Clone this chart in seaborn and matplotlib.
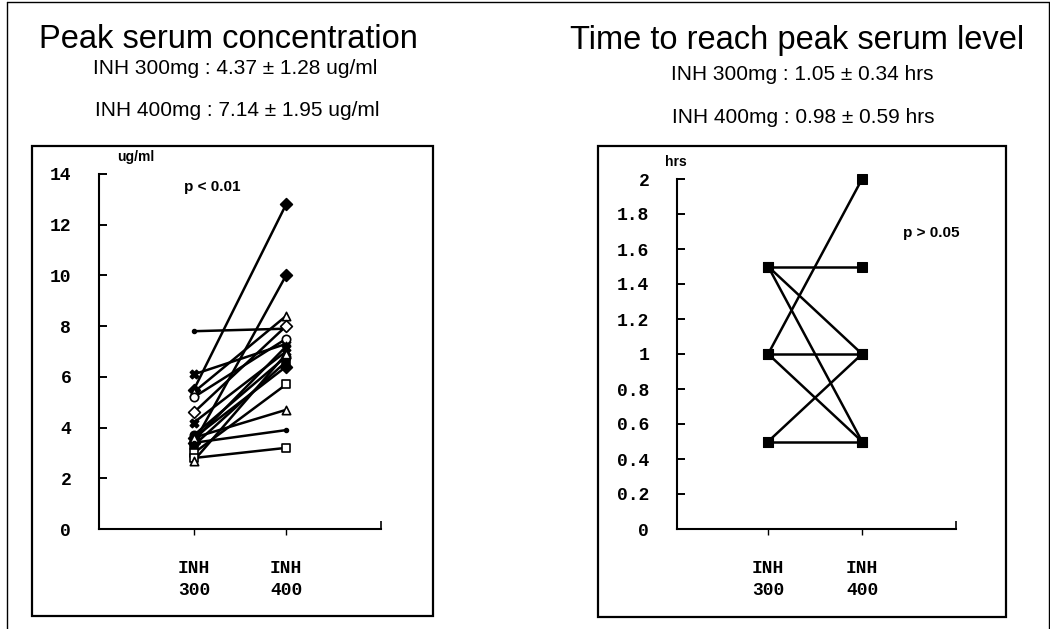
import matplotlib
matplotlib.use("Agg")
import matplotlib.pyplot as plt
from matplotlib.lines import Line2D
from matplotlib.patches import Rectangle
from matplotlib.ticker import FixedLocator
import seaborn as sns
import pandas as pd

# ---------------- data ----------------
doses = ["INH\n300", "INH\n400"]

# Peak serum concentration (ug/ml), one pair per subject
conc_300 = [5.5, 3.4, 7.8, 6.1, 5.4, 5.2, 4.6, 4.2, 3.7, 3.5, 3.3, 3.6, 3.0, 3.6, 3.4, 2.8, 2.7]
conc_400 = [12.8, 10.0, 7.9, 7.3, 8.4, 7.5, 8.0, 7.0, 6.8, 7.2, 6.6, 6.4, 5.7, 4.7, 3.9, 3.2, 6.9]

# Time to reach peak serum level (hrs)
time_300 = [1.0, 1.5, 1.5, 1.5, 1.0, 1.0, 0.5, 0.5]
time_400 = [2.0, 1.5, 1.0, 0.5, 1.0, 0.5, 1.0, 0.5]

left_title = "Peak serum concentration"
left_sub1 = "INH 300mg : 4.37 \u00b1 1.28 ug/ml"
left_sub2 = "INH 400mg : 7.14 \u00b1 1.95 ug/ml"
right_title = "Time to reach peak serum level"
right_sub1 = "INH 300mg : 1.05 \u00b1 0.34 hrs"
right_sub2 = "INH 400mg : 0.98 \u00b1 0.59 hrs"
left_p = "p < 0.01"
right_p = "p > 0.05"
left_unit = "ug/ml"
right_unit = "hrs"
left_yticks = [0, 2, 4, 6, 8, 10, 12, 14]
right_yticks = [0, 0.2, 0.4, 0.6, 0.8, 1, 1.2, 1.4, 1.6, 1.8, 2]
right_ylabels = ["0", "0.2", "0.4", "0.6", "0.8", "1", "1.2", "1.4", "1.6", "1.8", "2"]

# marker styles per subject (style only)
left_markers = ["D", "D", ".", "X", "^", "o", "D", "X", "o", "*", "s", "D", "s", "^", ".", "s", "^"]
left_filled = [True, True, True, True, False, False, False, True, True, True, True, True, False, False, True, False, False]

# ---------------- build tables ----------------
def long_table(a, b):
    rows = []
    for i, (v1, v2) in enumerate(zip(a, b)):
        rows.append({"subject": i, "dose": doses[0], "value": v1})
        rows.append({"subject": i, "dose": doses[1], "value": v2})
    return pd.DataFrame(rows)

df_left = long_table(conc_300, conc_400)
df_right = long_table(time_300, time_400)

# ---------------- figure ----------------
sns.set_theme(style="white")
plt.rcParams["font.family"] = ["Liberation Sans", "DejaVu Sans"]
plt.rcParams["text.color"] = "black"

fig = plt.figure(figsize=(10.5, 6.29), dpi=100)
W, H = 1050.0, 629.0

def fx(px):
    return px / W

def fy(py):
    return 1 - py / H

# outer frame
fig.add_artist(Line2D([fx(7), fx(7)], [0, fy(2)], color="black", lw=1.0))
fig.add_artist(Line2D([fx(7), fx(1049)], [fy(2), fy(2)], color="black", lw=1.0))
fig.add_artist(Line2D([fx(1049), fx(1049)], [0, fy(2)], color="black", lw=1.0))

# panel boxes
fig.add_artist(Rectangle((fx(32), fy(616)), fx(433) - fx(32), fy(146) - fy(616),
                         fill=False, ec="black", lw=1.6, transform=fig.transFigure))
fig.add_artist(Rectangle((fx(598), fy(617)), fx(1006) - fx(598), fy(146) - fy(617),
                         fill=False, ec="black", lw=1.6, transform=fig.transFigure))

# titles
fig.text(fx(228), fy(40), left_title, ha="center", va="center", fontsize=23.5, color="black")
fig.text(fx(235), fy(68), left_sub1, ha="center", va="center", fontsize=15, color="black")
fig.text(fx(237), fy(111), left_sub2, ha="center", va="center", fontsize=15, color="black")
fig.text(fx(797), fy(40), right_title, ha="center", va="center", fontsize=23.5, color="black")
fig.text(fx(802), fy(74), right_sub1, ha="center", va="center", fontsize=15, color="black")
fig.text(fx(803), fy(117), right_sub2, ha="center", va="center", fontsize=15, color="black")

# axes
axL = fig.add_axes([fx(99), fy(529), fx(381) - fx(99), fy(174) - fy(529)])
axR = fig.add_axes([fx(677), fy(529), fx(956) - fx(677), fy(179) - fy(529)])

# left panel: lines then markers
sns.lineplot(data=df_left, x="dose", y="value", units="subject", estimator=None,
             color="black", lw=1.8, ax=axL, legend=False)
for i in range(len(conc_300)):
    sub = df_left[df_left["subject"] == i]
    sns.scatterplot(data=sub, x="dose", y="value", marker=left_markers[i],
                    s=36 if left_markers[i] != "." else 30,
                    color="black",
                    facecolor="black" if left_filled[i] else "white",
                    edgecolor="black", linewidth=1.2, ax=axL, legend=False,
                    zorder=3, clip_on=False)

# right panel
sns.lineplot(data=df_right, x="dose", y="value", units="subject", estimator=None,
             color="black", lw=1.8, marker="s", markersize=7, mec="black", mfc="black",
             ax=axR, legend=False, clip_on=False)

mono = ["Liberation Mono", "DejaVu Sans Mono"]

for ax, yt, ylim, xlim, ylabels in [
    (axL, left_yticks, (0, 14), (-1.03, 2.03), [str(v) for v in left_yticks]),
    (axR, right_yticks, (0, 2), (-0.97, 2.0), right_ylabels),
]:
    ax.set_facecolor("none")
    ax.set_ylim(*ylim)
    ax.set_xlim(*xlim)
    ax.set_yticks(yt)
    ax.set_yticklabels(ylabels, fontdict={"family": mono, "weight": "bold", "size": 13})
    ax.set_xlabel("")
    ax.set_ylabel("")
    for s in ["top", "right"]:
        ax.spines[s].set_visible(False)
    for s in ["left", "bottom"]:
        ax.spines[s].set_color("black")
        ax.spines[s].set_linewidth(1.5)
    ax.tick_params(axis="y", direction="in", length=6, width=1.4, pad=20, colors="black", left=True)
    ax.tick_params(axis="x", direction="out", length=4, width=1.0, pad=18, colors="black", bottom=True)
    ax.xaxis.set_minor_locator(FixedLocator([xlim[1]]))
    ax.tick_params(axis="x", which="minor", direction="in", length=6, width=1.4, bottom=True)
    for lbl in ax.get_xticklabels():
        lbl.set_fontfamily(mono)
        lbl.set_fontweight("bold")
        lbl.set_fontsize(13)
        lbl.set_linespacing(1.45)
    ax.grid(False)

# annotations
axL.text(-0.11, 13.5, left_p, ha="left", va="center", fontsize=11, fontweight="bold", color="black")
axR.text(1.44, 1.69, right_p, ha="left", va="center", fontsize=11, fontweight="bold", color="black")
fig.text(fx(117), fy(157), left_unit, ha="left", va="center", fontsize=10, fontweight="bold", color="black")
fig.text(fx(665), fy(162), right_unit, ha="left", va="center", fontsize=10, fontweight="bold", color="black")

fig.savefig("out.png", dpi=100)
